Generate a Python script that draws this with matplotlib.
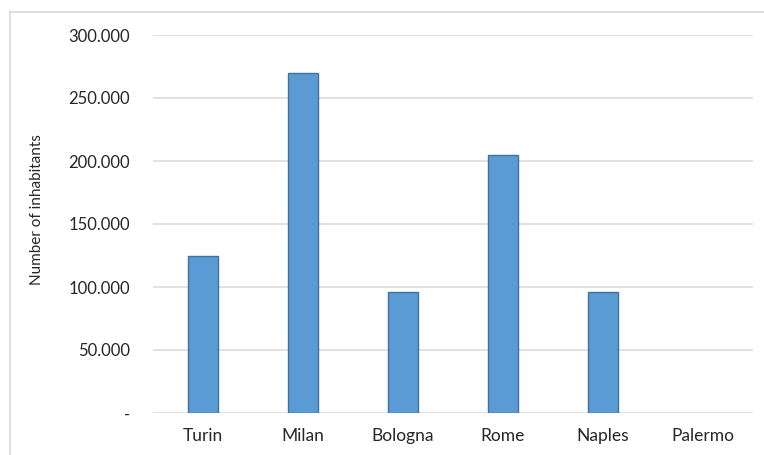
import matplotlib
matplotlib.use("Agg")
import matplotlib.pyplot as plt
from matplotlib.lines import Line2D
from matplotlib.ticker import FuncFormatter

# -- data
cities = ["Turin", "Milan", "Bologna", "Rome", "Naples", "Palermo"]
inhabitants = [125000, 270000, 96000, 205000, 96000, 0]
y_ticks = [0, 50000, 100000, 150000, 200000, 250000, 300000]

plt.rcParams['font.family'] = ['Lato', 'DejaVu Sans']

W, H = 764, 455
fig = plt.figure(figsize=(W / 100, H / 100), dpi=100)
ax = fig.add_axes([153 / W, 1 - 413 / H, 600 / W, 378 / H])

x = range(len(cities))
# empty categories get no outline
widths = [1.0 if v > 0 else 0.0 for v in inhabitants]
ax.bar(x, inhabitants, width=0.3, color="#5B9BD5", edgecolor="#41719C",
       linewidth=widths, zorder=3)

ax.set_xlim(-0.5, len(cities) - 0.5)
ax.set_ylim(0, 300000)
ax.set_yticks(y_ticks)


def thousands(v, pos):
    if v == 0:
        return "-"
    return f"{int(v):,}".replace(",", ".")


ax.yaxis.set_major_formatter(FuncFormatter(thousands))
ax.set_xticks(list(x))
ax.set_xticklabels(cities)

ax.grid(axis="y", color="#d9d9d9", linewidth=1.1, zorder=0)
for s in ax.spines.values():
    s.set_visible(False)
ax.tick_params(axis="both", length=0, labelcolor="#262626")
ax.tick_params(axis="y", pad=16.5, labelsize=12)
ax.tick_params(axis="x", pad=11, labelsize=12.5)

fig.text(37 / W, 1 - 210 / H, "Number of inhabitants", rotation=90,
         ha="center", va="center", fontsize=11, color="#262626")

# -- chart area frame (top and left edges)
fig.add_artist(Line2D([10 / W, 1], [1 - 12 / H, 1 - 12 / H],
                      transform=fig.transFigure, color="#d9d9d9", linewidth=1.2))
fig.add_artist(Line2D([10 / W, 10 / W], [1 - 12 / H, 0],
                      transform=fig.transFigure, color="#d9d9d9", linewidth=1.2))

fig.savefig("out.png", dpi=100, facecolor="white")
